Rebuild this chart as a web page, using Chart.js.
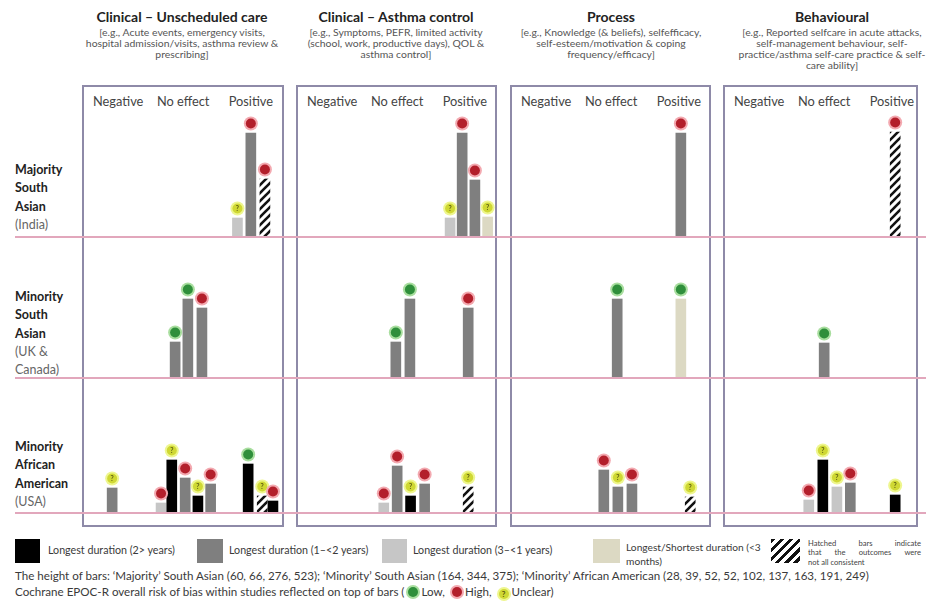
<!DOCTYPE html>
<html>
<head>
<meta charset="utf-8">
<script src="https://cdn.jsdelivr.net/npm/chart.js@4.4.1/dist/chart.umd.min.js"></script>
<style>
  body { margin: 0; width: 926px; height: 610px; position: relative; background: #fff; overflow: hidden;
         font-family: Lato, "Open Sans", sans-serif; color: #333; }
  .head { position: absolute; top: 7px; width: 260px; text-align: center; white-space: nowrap; transform: translateX(-50%); }
  .head b { display: block; font-size: 14px; line-height: 20px; color: #222; }
  .head span { display: block; font-size: 10.4px; line-height: 11px; color: #555; }
  .box { position: absolute; top: 85px; height: 442px; border: 2px solid #8e8aa8; box-sizing: border-box; }
  .eff { position: absolute; top: 93px; font-size: 12.8px; line-height: 16px; color: #444; transform: translateX(-50%); white-space: nowrap; }
  .rowlab { position: absolute; left: 15px; font-size: 12.5px; line-height: 18.3px; color: #222; font-weight: bold; }
  .rowlab span { color: #666; font-weight: normal; }
  .pink { position: absolute; left: 15px; width: 911px; height: 2px; background: #e2a7bc; z-index: 2; }
  canvas { position: absolute; z-index: 1; }
  .sq { position: absolute; }
  .lg { position: absolute; font-size: 10.7px; line-height: 14px; color: #3a3a3a; white-space: nowrap; }
  .note { position: absolute; left: 15px; font-size: 11.6px; line-height: 15px; color: #3a3a3a; white-space: nowrap; }
  .dot { display: inline-block; width: 10px; height: 10px; border-radius: 50%; vertical-align: -1px; margin: 0 3px 0 4px;
         font-size: 8px; line-height: 10px; text-align: center; font-weight: bold; color: #5a5a10; }
  .hj { width: 113px; font-size: 7.6px; line-height: 9.3px; color: #444; text-align: justify; text-align-last: justify; white-space: normal; }
</style>
</head>
<body>
<div id="page"></div>
<script>
// outcome domains (columns) and study populations (rows)
const domains = ['Clinical – Unscheduled care', 'Clinical – Asthma control', 'Process', 'Behavioural'];
const domainNotes = [
  ['[e.g., Acute events, emergency visits,', 'hospital admission/visits, asthma review &', 'prescribing]'],
  ['[e.g., Symptoms, PEFR, limited activity', '(school, work, productive days), QOL &', 'asthma control]'],
  ['[e.g., Knowledge (& beliefs), selfefficacy,', 'self-esteem/motivation & coping', 'frequency/efficacy]'],
  ['[e.g., Reported selfcare in acute attacks,', 'self-management behaviour, self-', 'practice/asthma self-care practice & self-', 'care ability]']
];
const populations = [['Majority', 'South', 'Asian'], ['Minority', 'South', 'Asian'], ['Minority', 'African', 'American']];
const populationPlaces = [['(India)'], ['(UK &', 'Canada)'], ['(USA)']];
const effectLabels = ['Negative', 'No effect', 'Positive'];
const effectSlots = [2.7, 7.55, 12.6];

// bar position (slot along the effect axis), bar height (study size), fill (duration), risk of bias
// one inner list per domain
const majorityPos  = [[11.6, 12.6, 13.65], [11.5, 12.4, 13.35, 14.3], [12.75], [12.85]];
const majoritySize = [[95, 520, 290], [95, 520, 285, 100], [520], [525]];
const majorityFill = [['light', 'mid', 'hatch'], ['light', 'mid', 'mid', 'beige'], ['mid'], ['hatch']];
const majorityRisk = [['U', 'H', 'H'], ['U', 'H', 'H', 'U'], ['H'], ['H']];

const minoritySaPos  = [[6.95, 7.9, 8.95], [7.45, 8.5, 12.85], [8.0, 12.75], [7.55]];
const minoritySaSize = [[180, 395, 350], [180, 395, 350], [395, 395], [175]];
const minoritySaFill = [['mid', 'mid', 'mid'], ['mid', 'mid', 'mid'], ['mid', 'beige'], ['mid']];
const minoritySaRisk = [['L', 'L', 'H'], ['L', 'L', 'H'], ['L', 'L'], ['L']];

const africanPos  = [[2.25, 5.9, 6.7, 7.7, 8.65, 9.6, 12.4, 13.45, 14.25], [6.55, 7.55, 8.55, 9.6, 12.85],
                     [7.0, 8.05, 9.1, 13.45], [6.4, 7.45, 8.5, 9.5, 12.85]];
const africanSize = [[125, 50, 265, 175, 85, 145, 245, 85, 60], [50, 235, 85, 145, 130],
                     [215, 130, 145, 80], [65, 265, 130, 150, 90]];
const africanFill = [['mid', 'light', 'black', 'mid', 'black', 'mid', 'black', 'hatch', 'black'],
                     ['light', 'mid', 'black', 'mid', 'hatch'], ['mid', 'mid', 'mid', 'hatch'],
                     ['light', 'black', 'light', 'mid', 'black']];
const africanRisk = [['U', 'H', 'U', 'H', 'U', 'H', 'L', 'U', 'H'], ['H', 'H', 'U', 'H', 'U'],
                     ['H', 'U', 'H', 'U'], ['H', 'U', 'U', 'H', 'U']];

const rowsPos  = [majorityPos, minoritySaPos, africanPos];
const rowsSize = [majoritySize, minoritySaSize, africanSize];
const rowsFill = [majorityFill, minoritySaFill, africanFill];
const rowsRisk = [majorityRisk, minoritySaRisk, africanRisk];

// layout
const colLeft = [82, 296, 510, 723];
const boxWidth = [202, 201, 201, 195];
const headCenter = [182, 396, 611, 832];
const rowBase = [237, 378, 513];
const rowLabelTop = [161, 288, 438];
const plotW = 201, plotH = 130;

// hatched fill
const patCanvas = document.createElement('canvas');
patCanvas.width = 8; patCanvas.height = 8;
const pctx = patCanvas.getContext('2d');
pctx.fillStyle = '#fff'; pctx.fillRect(0, 0, 8, 8);
pctx.strokeStyle = '#111'; pctx.lineWidth = 2.6;
[[-4, 4, 4, -4], [0, 8, 8, 0], [4, 12, 12, 4]].forEach(l => {
  pctx.beginPath(); pctx.moveTo(l[0], l[1]); pctx.lineTo(l[2], l[3]); pctx.stroke();
});
const hatch = pctx.createPattern(patCanvas, 'repeat');

const fills = { black: '#000000', mid: '#7f7f7f', light: '#c6c6c6', beige: '#dcd9c3', hatch: hatch };
const riskColors = { L: ['#a9de9f', '#2f8f3b'], H: ['#f3a9b0', '#b31f2b'], U: ['#eef68e', '#cfd833'] };

const riskDots = {
  id: 'riskDots',
  afterDatasetsDraw(chart) {
    const ctx = chart.ctx;
    const risk = chart.data.datasets[0].risk;
    chart.getDatasetMeta(0).data.forEach((bar, i) => {
      const { x, y } = bar.getProps(['x', 'y'], true);
      const c = riskColors[risk[i]];
      ctx.save();
      ctx.beginPath(); ctx.arc(x, y - 9.5, 7, 0, Math.PI * 2); ctx.fillStyle = c[0]; ctx.fill();
      ctx.beginPath(); ctx.arc(x, y - 9.5, 5, 0, Math.PI * 2); ctx.fillStyle = c[1]; ctx.fill();
      if (risk[i] === 'U') {
        ctx.fillStyle = '#5d5d12'; ctx.font = 'bold 7px Lato'; ctx.textAlign = 'center'; ctx.textBaseline = 'middle';
        ctx.fillText('?', x, y - 9);
      }
      ctx.restore();
    });
  }
};

const page = document.getElementById('page');
function add(cls, css, html) {
  const d = document.createElement('div');
  d.className = cls;
  Object.assign(d.style, css);
  d.innerHTML = html || '';
  page.appendChild(d);
  return d;
}

// column headers, boxes and effect labels
domains.forEach((name, c) => {
  add('head', { left: headCenter[c] + 'px' }, '<b>' + name + '</b>' + domainNotes[c].map(t => '<span>' + t + '</span>').join(''));
  add('box', { left: colLeft[c] + 'px', width: boxWidth[c] + 'px' });
  effectLabels.forEach((lab, k) => {
    add('eff', { left: (colLeft[c] + effectSlots[k] * plotW / 15) + 'px' }, lab);
  });
});

// row labels and baselines
populations.forEach((p, r) => {
  add('rowlab', { top: rowLabelTop[r] + 'px' }, p.join('<br>') + '<br><span>' + populationPlaces[r].join('<br>') + '</span>');
  add('pink', { top: (rowBase[r] - 1) + 'px' });
});

// one small bar chart per population x domain
rowsPos.forEach((rowPos, r) => {
  rowPos.forEach((pos, c) => {
    const cv = document.createElement('canvas');
    cv.width = plotW; cv.height = plotH;
    cv.style.left = colLeft[c] + 'px';
    cv.style.top = (rowBase[r] - plotH) + 'px';
    page.appendChild(cv);
    new Chart(cv, {
      type: 'bar',
      data: {
        datasets: [{
          data: pos.map((x, i) => ({ x: x, y: rowsSize[r][c][i] })),
          backgroundColor: rowsFill[r][c].map(f => fills[f]),
          barThickness: 10,
          risk: rowsRisk[r][c]
        }]
      },
      options: {
        responsive: false,
        animation: false,
        devicePixelRatio: 1,
        layout: { padding: 0 },
        plugins: { legend: { display: false }, tooltip: { enabled: false } },
        scales: {
          x: { type: 'linear', min: 0, max: 15, offset: false, display: false },
          y: { min: 0, max: 650, display: false }
        }
      },
      plugins: [riskDots]
    });
  });
});

// legend
add('sq', { left: '15px', top: '539px', width: '25px', height: '24px', background: fills.black });
add('lg', { left: '48px', top: '543px' }, 'Longest duration (2&gt; years)');
add('sq', { left: '197px', top: '539px', width: '26px', height: '24px', background: fills.mid });
add('lg', { left: '229px', top: '543px' }, 'Longest duration (1–&lt;2 years)');
add('sq', { left: '382px', top: '539px', width: '25px', height: '24px', background: fills.light });
add('lg', { left: '413px', top: '543px' }, 'Longest duration (3–&lt;1 years)');
add('sq', { left: '593px', top: '539px', width: '27px', height: '24px', background: fills.beige });
add('lg', { left: '626px', top: '540px', fontSize: '10.2px', lineHeight: '14px' }, 'Longest/Shortest duration (&lt;3<br>months)');
add('sq', { left: '771px', top: '539px', width: '29px', height: '24px',
  background: 'repeating-linear-gradient(135deg, #111 0 3px, #fff 3px 6.5px)' });
add('lg', { left: '808px', top: '539px' },
  '<div class="hj">Hatched bars indicate</div><div class="hj">that the outcomes were</div><div class="hj" style="text-align-last:left">not all consistent</div>');

// notes
add('note', { top: '568px' }, 'The height of bars: ‘Majority’ South Asian (60, 66, 276, 523); ‘Minority’ South Asian (164, 344, 375); ‘Minority’ African American (28, 39, 52, 52, 102, 137, 163, 191, 249)');
add('note', { top: '584px' }, 'Cochrane EPOC-R overall risk of bias within studies reflected on top of bars (' +
  '<span class="dot" style="background:#2f8f3b;box-shadow:0 0 0 2px #a9de9f"></span>Low, ' +
  '<span class="dot" style="background:#b31f2b;box-shadow:0 0 0 2px #f3a9b0"></span>High, ' +
  '<span class="dot" style="background:#cfd833;box-shadow:0 0 0 2px #eef68e">?</span>Unclear)');
</script>
</body>
</html>
